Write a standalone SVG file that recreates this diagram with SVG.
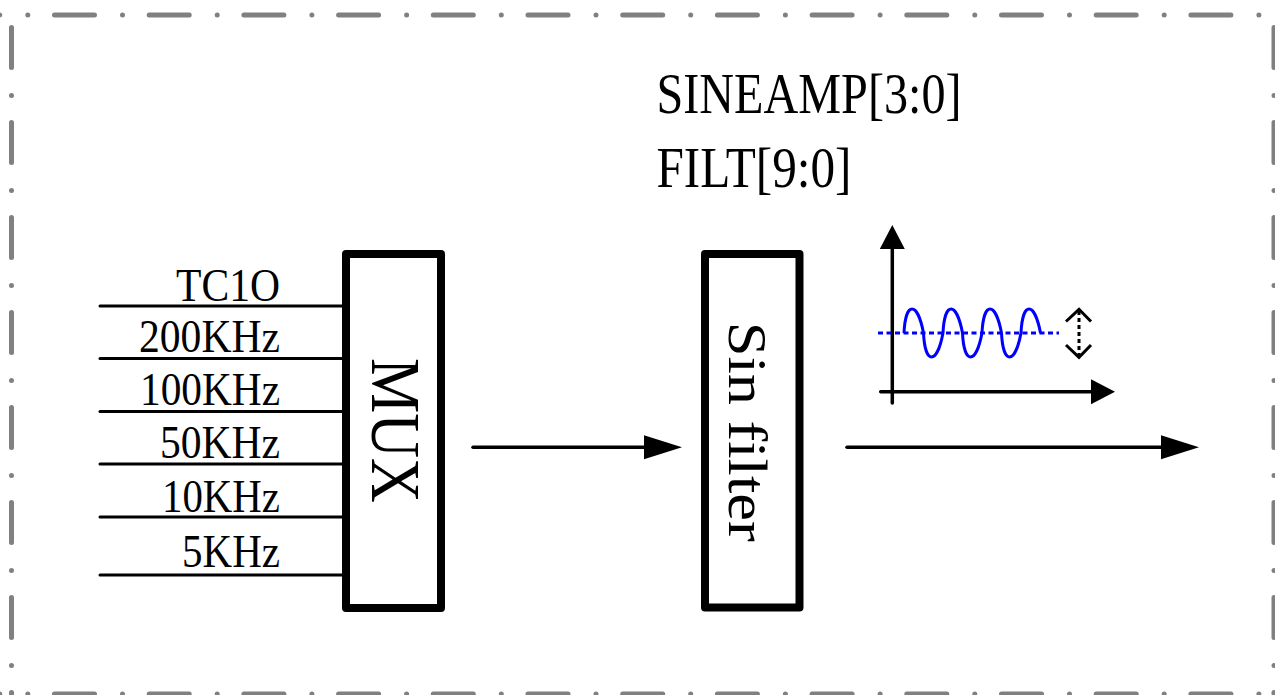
<svg xmlns="http://www.w3.org/2000/svg" width="1275" height="695" viewBox="0 0 1275 695">
<defs>
<style>
.frame{fill:none;stroke:#808080;stroke-width:5;stroke-linecap:round}
.fh{stroke-dasharray:40 28 0 26.7}
.fv{stroke-dasharray:40 28 0 27}
.box{fill:#fff;stroke:#000;stroke-width:8;stroke-linejoin:round}
.wire{fill:none;stroke:#000;stroke-width:3;stroke-linecap:round}
.arr{fill:none;stroke:#000;stroke-width:3.5;stroke-linecap:round}
.lbl{font-family:"Liberation Serif","Times New Roman",serif;fill:#000}
</style>
<marker id="ah" markerUnits="userSpaceOnUse" markerWidth="40" markerHeight="26" viewBox="0 -13 40 26" refX="0" refY="0" orient="auto">
<path d="M0,-12 L38,0 L0,12 Z" fill="#000"/>
</marker>
<marker id="ax" markerUnits="userSpaceOnUse" markerWidth="28" markerHeight="28" viewBox="0 -14 28 28" refX="0" refY="0" orient="auto">
<path d="M0,-12.5 L24,0 L0,12.5 Z" fill="#000"/>
</marker>
</defs>
<rect width="1275" height="695" fill="#fff"/>
<g id="frame">
<line class="frame fh" x1="-40.2" y1="15" x2="1274" y2="15"/>
<line class="frame fh" x1="-40.2" y1="694" x2="1274" y2="694"/>
<line class="frame fv" x1="11.5" y1="27.5" x2="11.5" y2="694"/>
<line class="frame fv" x1="1274" y1="27.5" x2="1274" y2="694"/>
</g>
<g id="connectors">
<line class="wire" x1="100" y1="306" x2="346" y2="306"/>
<line class="wire" x1="100" y1="358.5" x2="346" y2="358.5"/>
<line class="wire" x1="100" y1="411.5" x2="346" y2="411.5"/>
<line class="wire" x1="100" y1="464" x2="346" y2="464"/>
<line class="wire" x1="100" y1="517" x2="346" y2="517"/>
<line class="wire" x1="100" y1="575" x2="346" y2="575"/>
<line class="arr" x1="473" y1="447.3" x2="644" y2="447.3" marker-end="url(#ah)"/>
<line class="arr" x1="847" y1="447.3" x2="1161" y2="447.3" marker-end="url(#ah)"/>
</g>
<g id="inputs" class="lbl" font-size="46" text-anchor="end">
<text x="280" y="300.5" textLength="104" lengthAdjust="spacingAndGlyphs">TC1O</text>
<text x="280" y="352" textLength="141" lengthAdjust="spacingAndGlyphs">200KHz</text>
<text x="280" y="405" textLength="140" lengthAdjust="spacingAndGlyphs">100KHz</text>
<text x="280" y="458" textLength="120" lengthAdjust="spacingAndGlyphs">50KHz</text>
<text x="280" y="511.5" textLength="118" lengthAdjust="spacingAndGlyphs">10KHz</text>
<text x="280" y="566.5" textLength="98" lengthAdjust="spacingAndGlyphs">5KHz</text>
</g>
<g id="mux">
<rect class="box" x="346" y="254" width="95" height="354"/>
<text class="lbl" font-size="70" text-anchor="middle" transform="translate(372,430.5) rotate(90)" textLength="145" lengthAdjust="spacingAndGlyphs">MUX</text>
</g>
<g id="sinfilter">
<rect class="box" x="705" y="254" width="94.5" height="353.5"/>
<text class="lbl" font-size="55" text-anchor="middle" transform="translate(728.5,431.7) rotate(90)" textLength="220" lengthAdjust="spacingAndGlyphs">Sin filter</text>
</g>
<g id="params" class="lbl" font-size="58">
<text x="656.5" y="113" textLength="305" lengthAdjust="spacingAndGlyphs">SINEAMP[3:0]</text>
<text x="656.5" y="187" textLength="195" lengthAdjust="spacingAndGlyphs">FILT[9:0]</text>
</g>
<g id="waveform">
<line class="arr" x1="892.3" y1="403" x2="892.3" y2="249" marker-end="url(#ax)"/>
<line class="arr" x1="880.7" y1="391.7" x2="1091" y2="391.7" marker-end="url(#ax)"/>
<line x1="878" y1="333" x2="1059" y2="333" stroke="#0000ff" stroke-width="3" stroke-dasharray="5 3.5"/>
<path d="M904,333 C905.5,301 917.5,301 923.5,333 C925,365 937,365 943,333 C944.5,301 956.5,301 962.5,333 C964,365 976,365 982,333 C983.5,301 995.5,301 1001.5,333 C1003,365 1015,365 1021,333 C1022.5,301 1034.5,301 1040.5,333" fill="none" stroke="#0000ff" stroke-width="3" stroke-linejoin="round"/>
<line x1="1079" y1="311" x2="1079" y2="355" stroke="#000" stroke-width="3" stroke-dasharray="4 3"/>
<polyline points="1066,321.5 1079,309.3 1091,321.5" fill="none" stroke="#000" stroke-width="3"/>
<polyline points="1066,345 1079,357.3 1091,345" fill="none" stroke="#000" stroke-width="3"/>
</g>
</svg>
